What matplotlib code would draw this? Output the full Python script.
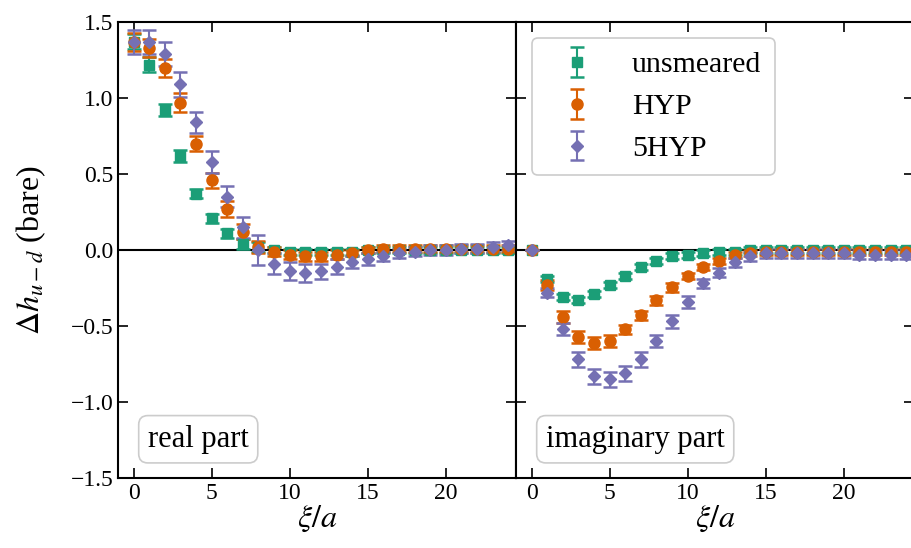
import numpy as np
import matplotlib
matplotlib.use("Agg")
import matplotlib.pyplot as plt

plt.rcParams.update({
    "font.family": "serif",
    "font.serif": ["Liberation Serif", "DejaVu Serif"],
    "mathtext.fontset": "stix",
    "axes.linewidth": 1.5,
    "xtick.direction": "in",
    "ytick.direction": "in",
    "xtick.top": True,
    "ytick.right": True,
    "xtick.major.size": 7,
    "ytick.major.size": 7,
    "xtick.major.width": 1.2,
    "ytick.major.width": 1.2,
    "xtick.labelsize": 17,
    "ytick.labelsize": 17,
})

xi = np.arange(25)

labels = ["unsmeared", "HYP", "5HYP"]
colors = ["#1b9e77", "#d95f02", "#7570b3"]
markers = ["s", "o", "D"]
msizes = [6.5, 8, 6.5]

# real part
re_unsm = [1.37, 1.22, 0.92, 0.62, 0.37, 0.21, 0.11, 0.04, 0.02, 0.00, -0.01, -0.01,
           -0.01, -0.01, -0.01, 0.00, 0.00, 0.00, 0.00, 0.00, 0.00, 0.00, 0.00, 0.00, 0.00]
re_unsm_err = [0.05, 0.05, 0.04, 0.04, 0.03, 0.03, 0.03, 0.03, 0.03, 0.02, 0.02, 0.02,
               0.02, 0.02, 0.02, 0.02, 0.02, 0.02, 0.02, 0.02, 0.02, 0.02, 0.02, 0.02, 0.02]
re_hyp = [1.37, 1.33, 1.20, 0.97, 0.70, 0.46, 0.27, 0.12, 0.02, -0.01, -0.03, -0.04,
          -0.04, -0.03, -0.02, 0.00, 0.01, 0.01, 0.01, 0.01, 0.01, 0.01, 0.01, 0.01, 0.01]
re_hyp_err = [0.06, 0.06, 0.06, 0.06, 0.05, 0.05, 0.05, 0.05, 0.04, 0.03, 0.03, 0.03,
              0.03, 0.03, 0.02, 0.02, 0.02, 0.02, 0.02, 0.02, 0.02, 0.02, 0.02, 0.02, 0.02]
re_5hyp = [1.37, 1.37, 1.29, 1.09, 0.84, 0.58, 0.35, 0.15, 0.00, -0.09, -0.14, -0.15,
           -0.14, -0.11, -0.08, -0.06, -0.04, -0.02, -0.01, 0.00, 0.00, 0.01, 0.01, 0.02, 0.03]
re_5hyp_err = [0.08, 0.08, 0.08, 0.08, 0.07, 0.07, 0.07, 0.07, 0.10, 0.07, 0.06, 0.06,
               0.05, 0.05, 0.04, 0.04, 0.03, 0.03, 0.03, 0.03, 0.03, 0.03, 0.03, 0.03, 0.03]

# imaginary part
im_unsm = [0.00, -0.19, -0.31, -0.33, -0.29, -0.23, -0.17, -0.11, -0.07, -0.04, -0.03, -0.02,
           -0.01, -0.01, 0.00, 0.00, 0.00, 0.00, 0.00, 0.00, 0.00, 0.00, 0.00, 0.00, 0.00]
im_unsm_err = [0.00, 0.02, 0.02, 0.02, 0.02, 0.02, 0.02, 0.02, 0.02, 0.02, 0.02, 0.02,
               0.02, 0.02, 0.02, 0.02, 0.02, 0.02, 0.02, 0.02, 0.02, 0.02, 0.02, 0.02, 0.02]
im_hyp = [0.00, -0.23, -0.44, -0.57, -0.61, -0.60, -0.52, -0.43, -0.33, -0.245, -0.17, -0.11,
          -0.07, -0.03, -0.02, -0.01, -0.01, -0.01, -0.01, -0.01, -0.01, -0.01, -0.01, -0.01, -0.01]
im_hyp_err = [0.00, 0.03, 0.04, 0.04, 0.04, 0.04, 0.03, 0.03, 0.03, 0.03, 0.02, 0.02,
              0.02, 0.02, 0.02, 0.02, 0.02, 0.02, 0.02, 0.02, 0.02, 0.02, 0.02, 0.02, 0.02]
im_5hyp = [0.00, -0.28, -0.52, -0.72, -0.83, -0.85, -0.81, -0.72, -0.60, -0.47, -0.34, -0.22,
           -0.15, -0.08, -0.04, -0.02, -0.02, -0.02, -0.02, -0.02, -0.02, -0.03, -0.03, -0.03, -0.03]
im_5hyp_err = [0.00, 0.03, 0.04, 0.05, 0.05, 0.05, 0.05, 0.05, 0.04, 0.04, 0.04, 0.03,
               0.03, 0.03, 0.03, 0.03, 0.03, 0.03, 0.03, 0.03, 0.03, 0.03, 0.03, 0.03, 0.03]

real_series = [(re_unsm, re_unsm_err), (re_hyp, re_hyp_err), (re_5hyp, re_5hyp_err)]
imag_series = [(im_unsm, im_unsm_err), (im_hyp, im_hyp_err), (im_5hyp, im_5hyp_err)]

fig = plt.figure(figsize=(9.12, 5.48), dpi=100)
ax_re = fig.add_axes([0.1294, 0.1277, 0.4364, 0.8321])
ax_im = fig.add_axes([0.5658, 0.1277, 0.4364, 0.8321], sharey=ax_re)

box_style = dict(boxstyle="round,pad=0.3", facecolor="white", edgecolor="#cccccc", lw=1.2)

for ax, series, tag in [(ax_re, real_series, "real part"), (ax_im, imag_series, "imaginary part")]:
    ax.axhline(0, color="black", lw=1.5, zorder=1)
    for (vals, errs), lab, col, mk, ms in zip(series, labels, colors, markers, msizes):
        ax.errorbar(xi, vals, yerr=errs, fmt=mk, color=col, mec=col, ms=ms,
                    elinewidth=1.5, capsize=5, capthick=1.8, label=lab, zorder=3)
    ax.set_xlim(-1, 24.5)
    ax.set_ylim(-1.5, 1.5)
    ax.set_xticks([0, 5, 10, 15, 20])
    ax.set_yticks([-1.5, -1.0, -0.5, 0.0, 0.5, 1.0, 1.5])
    ax.set_xlabel(r"$\xi/a$", fontsize=23, labelpad=0)
    ax.text(0.075, 0.085, tag, transform=ax.transAxes, fontsize=22, va="center",
            ha="left", bbox=box_style)

ax_re.set_ylabel(r"$\Delta h_{u-d}$ (bare)", fontsize=23, labelpad=16)
plt.setp(ax_im.get_yticklabels(), visible=False)

leg = ax_im.legend(loc="upper left", bbox_to_anchor=(0.04, 0.965), borderaxespad=0,
                   fontsize=21.5, numpoints=1, handlelength=2.1, handletextpad=0.8,
                   labelspacing=0.5, borderpad=0.45, fancybox=True, framealpha=1)
leg.get_frame().set_edgecolor("#cccccc")
leg.get_frame().set_linewidth(1.2)

fig.savefig("out.png", dpi=100)
